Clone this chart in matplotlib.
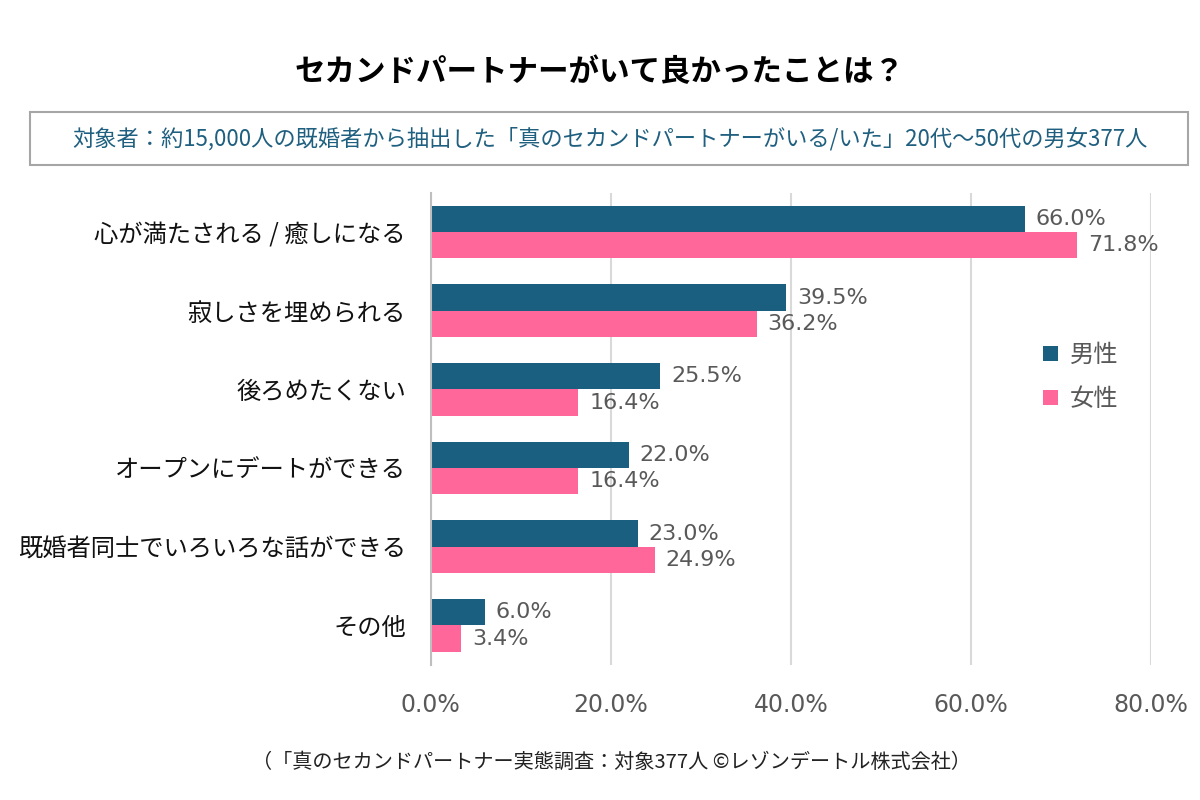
import matplotlib
matplotlib.use("Agg")
import matplotlib.pyplot as plt
import numpy as np
from matplotlib.patches import Rectangle

plt.rcParams['font.family'] = ['Noto Sans CJK JP', 'DejaVu Sans']

categories = ['心が満たされる / 癒しになる', '寂しさを埋められる', '後ろめたくない',
              'オープンにデートができる', '既婚者同士でいろいろな話ができる', 'その他']
male = [66.0, 39.5, 25.5, 22.0, 23.0, 6.0]
female = [71.8, 36.2, 16.4, 16.4, 24.9, 3.4]
xticks = [0, 20, 40, 60, 80]

blue = '#1a5e80'
pink = '#ff6699'
gray = '#595959'

fig = plt.figure(figsize=(12, 8), dpi=100)
ax = fig.add_axes([0.359, 0.169, 0.6, 0.590])

y = np.arange(len(categories))
h = 0.335
ax.barh(y - h / 2, male, height=h, color=blue, label='男性')
ax.barh(y + h / 2, female, height=h, color=pink, label='女性')

for yi, v in zip(y, male):
    ax.text(v + 1.2, yi - h / 2, f'{v:.1f}%', va='center', ha='left', fontsize=16,
            color=gray, family='DejaVu Sans')
for yi, v in zip(y, female):
    ax.text(v + 1.2, yi + h / 2, f'{v:.1f}%', va='center', ha='left', fontsize=16,
            color=gray, family='DejaVu Sans')

ax.set_xlim(0, 80)
ax.set_ylim(len(categories) - 0.5, -0.5)
ax.set_xticks(xticks)
ax.set_xticklabels([f'{t:.1f}%' for t in xticks], fontsize=17, color=gray, family='DejaVu Sans')
ax.set_yticks(y)
ax.set_yticklabels(categories, fontsize=17.5, color='#111111')
ax.tick_params(axis='both', length=0)
ax.tick_params(axis='x', pad=20)
ax.tick_params(axis='y', pad=18)
ax.grid(axis='x', color='#d9d9d9', linewidth=1.5)
ax.set_axisbelow(True)
for s in ['top', 'right', 'bottom']:
    ax.spines[s].set_visible(False)
ax.spines['left'].set_color('#bfbfbf')
ax.spines['left'].set_linewidth(1.5)

ax.legend(loc='upper left', bbox_to_anchor=(0.82, 0.73), frameon=False, fontsize=17.5,
          handlelength=0.6, handleheight=0.6, labelspacing=0.75, handletextpad=0.5,
          labelcolor=gray)

fig.text(0.5, 0.91, 'セカンドパートナーがいて良かったことは？', ha='center', va='center',
         fontsize=22, fontweight='bold', color='#000000')
fig.patches.append(Rectangle((0.025, 0.794), 0.965, 0.066, transform=fig.transFigure,
                             facecolor='white', edgecolor='#a6a6a6', linewidth=1.5))
fig.text(0.508, 0.827, '対象者：約15,000人の既婚者から抽出した「真のセカンドパートナーがいる/いた」20代〜50代の男女377人',
         ha='center', va='center', fontsize=16, color='#1f5f7f')
fig.text(0.51, 0.047, '（「真のセカンドパートナー実態調査：対象377人 ©レゾンデートル株式会社）',
         ha='center', va='center', fontsize=14.5, color='#222222')

fig.savefig('out.png', dpi=100, facecolor='white')
